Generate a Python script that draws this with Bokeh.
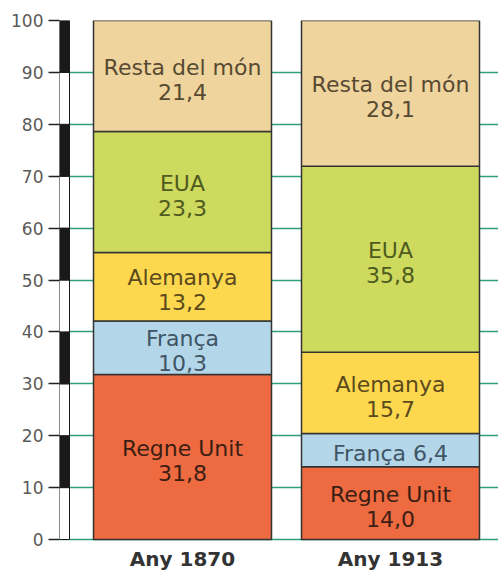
from bokeh.plotting import figure
from bokeh.models import Range1d, FixedTicker, ColumnDataSource
from bokeh.embed import file_html
from bokeh.resources import INLINE
from bokeh.core.properties import value

# ---- data ----
years = ["Any 1870", "Any 1913"]
countries = ["Regne Unit", "França", "Alemanya", "EUA", "Resta del món"]
share_1870 = [31.8, 10.3, 13.2, 23.3, 21.4]
share_1913 = [14.0, 6.4, 15.7, 35.8, 28.1]
y_ticks = [0, 10, 20, 30, 40, 50, 60, 70, 80, 90, 100]

# ---- styling / layout ----
fills = ["#EE6A40", "#B3D6E9", "#FDD84F", "#CDDA5E", "#EFD49D"]
text_cols = ["#3b1e14", "#3f5566", "#5b4a1c", "#4f5a1f", "#574a32"]
bar_centers = [123, 331]
bar_width = 178
strip_left, strip_right = 0, 10
px_per_unit = 5.19

W, H = 498, 571
top_b, left_b = 20, 59
frame_h = H - top_b
y_start = 100 - frame_h / px_per_unit

p = figure(width=W, height=H, output_backend="svg", toolbar_location=None,
           x_axis_location=None, x_range=Range1d(0, W - left_b),
           y_range=Range1d(y_start, 100),
           min_border_left=left_b, min_border_right=0, min_border_top=top_b,
           min_border_bottom=0)
p.outline_line_color = None
p.background_fill_color = "white"
p.border_fill_color = "white"

# axis
ax = p.yaxis[0]
ax.ticker = FixedTicker(ticks=y_ticks)
ax.axis_line_color = None
ax.major_tick_out = 11
ax.major_tick_in = 0
ax.minor_tick_line_color = None
ax.major_tick_line_color = "#222222"
ax.major_tick_line_width = 1.5
ax.major_label_standoff = 5
ax.major_label_text_font = "DejaVu Sans"
ax.major_label_text_font_size = "17px"
ax.major_label_text_color = "#5a5a5a"

p.xgrid.grid_line_color = None
p.ygrid.ticker = FixedTicker(ticks=y_ticks)
p.ygrid.grid_line_color = "#2f9e80"
p.ygrid.grid_line_width = 1.5

# scale strip
sb, st, sc = [], [], []
for i in range(len(y_ticks) - 1):
    sb.append(y_ticks[i]); st.append(y_ticks[i + 1])
    sc.append("white" if i % 2 == 0 else "#1a1a1a")
p.quad(left=strip_left, right=strip_right, bottom=sb, top=st, fill_color=sc,
       line_color="#1a1a1a", line_width=1)

# stacked bars
label_shift = 0.7
for xc, vals in zip(bar_centers, [share_1870, share_1913]):
    bottoms, tops, labels, mids = [], [], [], []
    acc = 0.0
    for c, v in zip(countries, vals):
        bottoms.append(acc); tops.append(acc + v)
        mids.append(acc + v / 2 - label_shift)
        num = f"{v:.1f}".replace(".", ",")
        labels.append(f"{c} {num}" if v < 8 else f"{c}\n{num}")
        acc += v
    src = ColumnDataSource(dict(bottom=bottoms, top=tops, fill=fills, mid=mids,
                                label=labels, tc=text_cols))
    p.quad(left=xc - bar_width / 2, right=xc + bar_width / 2, bottom="bottom", top="top",
           fill_color="fill", line_color="#333333", line_width=1.5, source=src)
    p.text(x=xc, y="mid", text="label", source=src, text_align="center",
           text_baseline="middle", text_font=value("DejaVu Sans"), text_font_size="22px",
           text_line_height=1.0, text_color="tc")

# year labels
p.text(x=bar_centers, y=[-3.75, -3.75], text=years, text_align="center",
       text_baseline="middle", text_font=value("DejaVu Sans"), text_font_size="20px",
       text_font_style="bold", text_color="#333333")

open("out.html", "w").write(file_html(p, INLINE))
